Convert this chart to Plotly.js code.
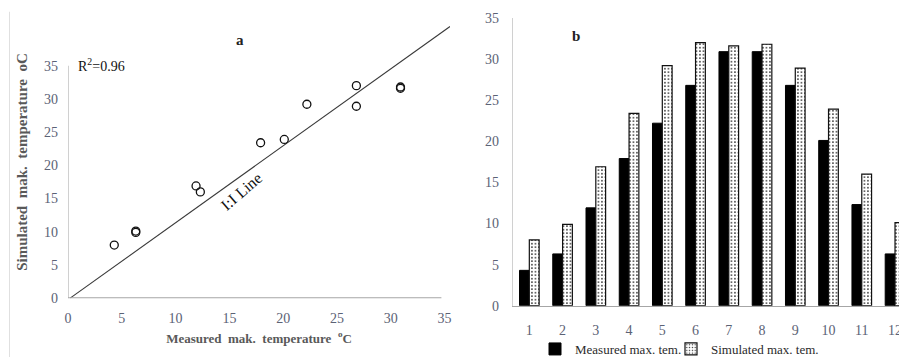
<!DOCTYPE html>
<html>
<head>
<meta charset="utf-8">
<script src="https://cdn.plot.ly/plotly-3.0.1.min.js"></script>
<style>html,body{margin:0;padding:0;background:#fff;overflow:hidden;width:899px;height:364px;}#chart{width:899px;height:364px;overflow:hidden;position:relative;}#chart svg{overflow:hidden !important;}</style>
</head>
<body>
<div id="chart"></div>
<script>
// ---- data ----
var months = [1, 2, 3, 4, 5, 6, 7, 8, 9, 10, 11, 12];
var measured = [4.3, 6.3, 11.9, 17.9, 22.2, 26.8, 30.9, 30.9, 26.8, 20.1, 12.3, 6.3];
var simulated = [8.0, 9.9, 16.9, 23.4, 29.2, 32.0, 31.6, 31.8, 28.9, 23.9, 16.0, 10.1];
var oneToOneX = [0.2, 35.5];
var oneToOneY = [0, 40.9];
var scatterTicks = [0, 5, 10, 15, 20, 25, 30, 35];
var barTicks = [0, 5, 10, 15, 20, 25, 30, 35];
var seriesNames = ["Measured max. tem.", "Simulated max. tem."];

var FONT = '"Liberation Serif", "Times New Roman", serif';
var TICKC = '#5b6275';
var W = 899, H = 364;
function px(x) { return x / W; }
function py(y) { return (H - y) / H; }

var traces = [
  {
    type: 'scatter', mode: 'lines', x: oneToOneX, y: oneToOneY,
    xaxis: 'x', yaxis: 'y', showlegend: false, hoverinfo: 'skip',
    line: { color: '#3a3a3a', width: 1.1 }
  },
  {
    type: 'scatter', mode: 'markers', x: measured, y: simulated,
    xaxis: 'x', yaxis: 'y', showlegend: false,
    marker: { symbol: 'circle-open', size: 8, color: '#111', line: { width: 1.3, color: '#111' } }
  },
  {
    type: 'bar', x: months, y: measured, name: seriesNames[0],
    xaxis: 'x2', yaxis: 'y2', legend: 'legend',
    marker: { color: '#000', line: { color: '#000', width: 1 } }
  },
  {
    type: 'bar', x: months, y: simulated, name: seriesNames[1],
    xaxis: 'x2', yaxis: 'y2', legend: 'legend2',
    marker: {
      color: '#fff',
      line: { color: '#111', width: 1.2 },
      pattern: { shape: '.', fgcolor: '#333', bgcolor: '#fff', size: 3.5, solidity: 0.2 }
    }
  }
];

var legendFont = { family: FONT, size: 13, color: '#2a2a2a' };

var layout = {
  width: W, height: H,
  margin: { l: 0, r: 0, t: 0, b: 0 },
  paper_bgcolor: '#fff', plot_bgcolor: 'rgba(0,0,0,0)',
  font: { family: FONT, color: TICKC, size: 14 },
  showlegend: true,
  barmode: 'group', bargap: 0.41, bargroupgap: 0,
  legend: {
    orientation: 'h', x: px(535), xanchor: 'left', y: py(356), yanchor: 'middle',
    font: legendFont, itemwidth: 30, bgcolor: 'rgba(0,0,0,0)'
  },
  legend2: {
    orientation: 'h', x: px(671), xanchor: 'left', y: py(356), yanchor: 'middle',
    font: legendFont, itemwidth: 30, bgcolor: 'rgba(0,0,0,0)'
  },
  xaxis: {
    domain: [px(68), px(450)], range: [0, 35.5], anchor: 'y',
    tickvals: scatterTicks, ticks: '', showgrid: false, zeroline: false, showline: false,
    ticklabelstandoff: 10, tickfont: { family: FONT, size: 14, color: TICKC },
    title: { text: 'Measured  mak.  temperature  <sup>o</sup>C', standoff: 8,
             font: { family: FONT, size: 13, color: '#595959', weight: 'bold' } }
  },
  yaxis: {
    domain: [py(304), py(26.4)], range: [0, 41], anchor: 'x',
    tickvals: scatterTicks, ticks: '', showgrid: false, zeroline: false, showline: false,
    ticklabelstandoff: 9, tickfont: { family: FONT, size: 14, color: TICKC },
    title: { text: 'Simulated  mak.  temperature  oC', standoff: 12,
             font: { family: FONT, size: 15, color: '#595959', weight: 'bold' } }
  },
  xaxis2: {
    domain: [px(512.7), 1], range: [0.5, 12.12], anchor: 'y2',
    tickvals: months, ticks: '', showgrid: false, zeroline: false,
    showline: true, linecolor: '#a6a6a6', linewidth: 1, ticklabeloverflow: 'allow',
    ticklabelstandoff: 11, tickfont: { family: FONT, size: 14, color: TICKC }
  },
  yaxis2: {
    domain: [py(311.7), py(18.3)], range: [0, 35], anchor: 'x2',
    tickvals: barTicks, ticks: '', showgrid: false, zeroline: false,
    showline: true, linecolor: '#d0d0d0', linewidth: 1,
    ticklabelstandoff: 10, tickfont: { family: FONT, size: 14, color: TICKC }
  },
  shapes: [
    { type: 'line', xref: 'x', yref: 'y', x0: 0, x1: 0, y0: 0, y1: 35,
      line: { color: '#d0d0d0', width: 2 } },
    { type: 'line', xref: 'x', yref: 'y', x0: 0, x1: 34.7, y0: 0, y1: 0,
      line: { color: '#a6a6a6', width: 2 } },
    { type: 'line', xref: 'paper', yref: 'paper', x0: px(9.5), x1: px(9.5), y0: 0, y1: py(12),
      line: { color: '#e0e0e0', width: 1 } }
  ],
  annotations: [
    { xref: 'paper', yref: 'paper', x: px(234), y: py(31), text: '<b>a</b>', showarrow: false,
      font: { family: FONT, size: 15, color: '#222' } },
    { xref: 'paper', yref: 'paper', x: px(576), y: py(27), text: '<b>b</b>', showarrow: false,
      font: { family: FONT, size: 15, color: '#222' } },
    { xref: 'paper', yref: 'paper', x: px(76), xanchor: 'left', y: py(55), text: 'R<sup>2</sup>=0.96',
      showarrow: false, font: { family: FONT, size: 14, color: '#111' } },
    { xref: 'x', yref: 'y', x: 16.1, y: 16.1, text: 'I:I Line', textangle: -41, showarrow: false,
      font: { family: FONT, size: 16, color: '#111' } }
  ]
};

Plotly.newPlot('chart', traces, layout, { displayModeBar: false, staticPlot: true });
</script>
</body>
</html>
